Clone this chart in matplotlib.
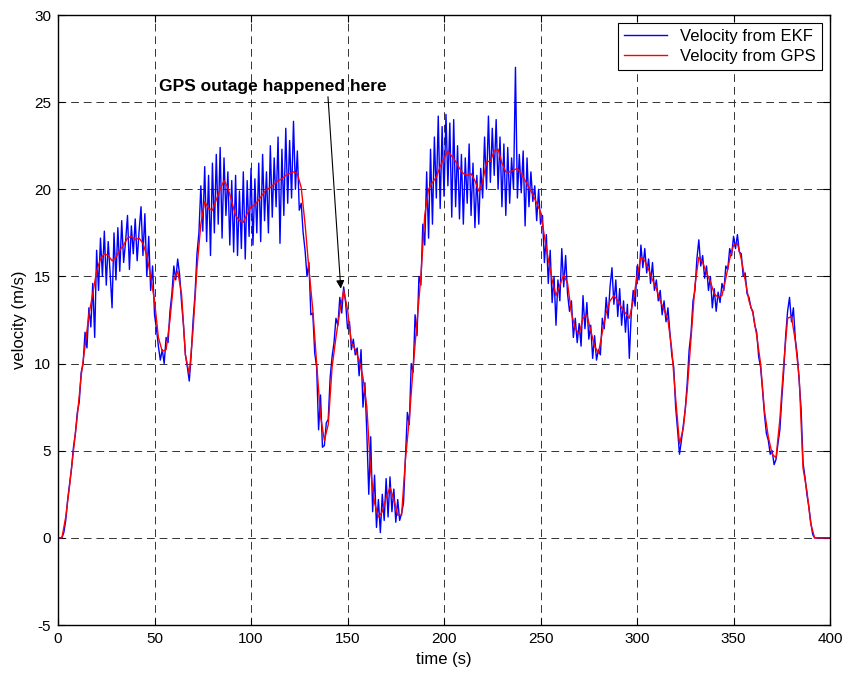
import numpy as np
import matplotlib
matplotlib.use("Agg")
from matplotlib import pyplot as plt

# GPS velocity, every 2 s from 0 to 400
gps_t = np.arange(0, 402, 2)
gps_v = [
    0, 0, 1.2, 3.0, 5.0, 7.0, 9.3, 11.0, 12.8, 14.0,
    15.3, 16.0, 16.3, 16.2, 15.9, 16.1, 16.5, 16.8, 17.2, 17.3,
    17.1, 17.2, 16.9, 16.2, 15.0, 13.6, 11.5, 10.7, 10.8, 12.5,
    14.8, 15.3, 14.0, 10.5, 9.4, 12.0, 15.5, 18.0, 19.3, 18.9,
    18.8, 19.4, 20.0, 20.5, 20.1, 19.3, 18.5, 18.2, 18.1, 18.6,
    19.0, 19.1, 19.4, 19.7, 20.0, 20.1, 20.3, 20.5, 20.6, 20.8,
    20.9, 21.0, 20.9, 20.1, 18.0, 15.4, 13.1, 10.0, 7.0, 5.6,
    6.5, 9.8, 11.5, 13.0, 14.2, 13.1, 11.2, 10.8, 10.2, 9.2,
    7.5, 3.8, 2.0, 1.2, 1.5, 2.3, 2.9, 2.2, 1.3, 1.3,
    4.5, 6.8, 9.8, 12.4, 15.0, 18.5, 20.0, 20.4, 20.7, 21.3,
    21.8, 22.2, 21.9, 21.6, 21.2, 20.9, 20.8, 20.9, 20.5, 19.9,
    20.4, 21.6, 21.6, 22.2, 22.3, 21.5, 21.0, 21.0, 21.1, 21.2,
    20.9, 20.5, 20.1, 19.7, 19.2, 18.7, 17.3, 16.0, 14.8, 13.9,
    14.5, 15.1, 14.6, 12.9, 12.0, 11.7, 12.6, 12.8, 11.9, 11.0,
    10.6, 11.8, 12.9, 13.6, 13.9, 13.6, 13.2, 12.9, 12.6, 13.6,
    15.0, 16.1, 15.9, 15.4, 14.8, 14.3, 13.6, 13.1, 12.5, 10.8,
    8.0, 5.4, 6.3, 8.5, 11.5, 14.5, 16.1, 15.8, 15.2, 14.7,
    14.0, 13.8, 13.9, 14.9, 16.0, 16.8, 16.9, 16.0, 14.8, 13.6,
    12.9, 11.6, 10.0, 7.3, 5.8, 4.8, 4.6, 6.8, 10.0, 12.6,
    12.7, 11.3, 9.2, 4.0, 2.7, 0.8, 0, 0, 0, 0,
    0,
]

# EKF velocity, every 1 s from 0 to 400
ekf_t = np.arange(0, 401, 1)
ekf_v = [
    0, 0, 0, 0.3, 1.0, 2.2, 3.1, 4.0, 5.2, 6.0,
    7.2, 7.8, 9.5, 10.0, 11.8, 10.9, 13.2, 12.1, 14.6, 11.5,
    16.5, 14.2, 17.2, 15.0, 17.6, 14.5, 17.0, 15.2, 13.2, 17.5,
    14.8, 17.8, 15.3, 18.2, 15.8, 17.0, 18.5, 15.4, 17.9, 16.3,
    18.3, 15.9, 17.6, 19.0, 16.2, 18.6, 15.0, 17.3, 14.2, 15.6,
    12.8, 12.0, 11.0, 10.2, 10.8, 10.0, 11.5, 11.2, 13.0, 14.0,
    15.6, 14.8, 16.0, 15.1, 13.5, 12.2, 10.5, 9.8, 9.0, 10.5,
    12.5, 14.0, 16.3, 17.5, 20.2, 17.6, 21.3, 17.0, 20.8, 16.2,
    21.5, 17.5, 22.0, 18.0, 22.4, 17.2, 21.8, 18.5, 21.0, 16.8,
    20.5, 16.4, 20.8, 16.2, 19.9, 16.6, 21.0, 16.0, 20.5, 17.3,
    21.2, 16.8, 20.6, 17.5, 21.5, 17.0, 22.0, 18.2, 21.0, 17.5,
    22.5, 18.4, 21.8, 19.0, 23.0, 16.9, 22.3, 18.5, 23.5, 19.2,
    22.8, 19.5, 23.9, 20.0, 22.2, 18.8, 19.2, 17.5, 16.5, 15.0,
    15.8, 12.8, 12.9, 10.6, 9.8, 6.2, 8.2, 5.2, 5.3, 6.6,
    6.8, 9.2, 10.4, 11.2, 12.6, 12.2, 13.8, 12.9, 14.4, 13.5,
    12.0, 12.4, 10.8, 11.4, 10.5, 10.9, 9.3, 10.8, 7.5, 8.9,
    6.0, 2.5, 5.8, 1.5, 3.6, 0.6, 2.2, 0.3, 2.5, 1.0,
    3.4, 1.2, 3.5, 1.5, 2.8, 0.9, 2.2, 1.0, 1.4, 2.0,
    4.6, 7.2, 6.5, 10.0, 9.5, 12.8, 11.6, 15.0, 14.5, 18.0,
    16.8, 21.0, 17.2, 22.3, 18.0, 23.0, 19.5, 24.2, 18.9, 23.6,
    19.6, 24.3, 20.2, 23.8, 18.4, 24.0, 19.0, 22.5, 18.3, 22.0,
    18.0, 21.8, 19.2, 22.6, 18.5, 21.5, 17.8, 20.8, 18.0, 21.2,
    19.5, 23.0, 20.0, 24.2, 20.4, 23.5, 20.8, 24.0, 20.0, 23.0,
    19.0, 22.6, 18.5, 22.4, 19.2, 21.8, 20.0, 27.0, 19.5, 22.0,
    19.8, 22.2, 17.9, 21.8, 19.0, 21.0, 19.3, 20.2, 18.2, 20.0,
    18.0, 18.5, 15.8, 17.4, 14.6, 16.5, 13.5, 15.0, 12.2, 14.8,
    13.6, 16.6, 14.4, 16.2, 14.0, 13.0, 13.6, 11.5, 12.6, 11.2,
    12.3, 11.0, 13.9, 12.0, 13.5, 11.4, 12.2, 10.3, 11.6, 10.2,
    10.8, 10.5, 12.6, 12.0, 13.8, 12.6, 14.4, 15.5, 13.4, 14.8,
    12.7, 14.3, 12.2, 13.6, 11.8, 13.4, 10.3, 12.9, 14.2, 13.3,
    15.6, 14.8, 16.8, 15.5, 16.6, 15.2, 16.0, 14.6, 15.8, 14.2,
    14.8, 13.6, 14.2, 12.8, 13.6, 12.4, 13.2, 11.8, 10.5, 9.8,
    7.5, 6.2, 4.8, 5.6, 6.5, 7.4, 8.9, 10.8, 11.8, 13.6,
    14.2, 16.0, 17.1, 15.6, 16.2, 14.9, 15.6, 14.2, 15.0, 13.2,
    14.3, 13.0, 14.1, 13.5, 14.6, 14.2, 15.6, 15.4, 16.6, 16.2,
    17.3, 16.6, 17.4, 16.4, 16.3, 15.0, 15.2, 14.0, 13.8, 13.2,
    13.0, 12.2, 11.8, 10.4, 9.8, 8.5, 7.1, 6.0, 5.6, 4.8,
    5.0, 4.2, 4.5, 5.4, 6.2, 8.0, 9.6, 11.6, 13.0, 13.8,
    12.4, 13.2, 11.4, 10.5, 9.0, 7.4, 4.3, 3.5, 2.5, 1.8,
    0.9, 0.2, 0, 0, 0, 0, 0, 0, 0, 0,
    0,
]

plt.rcParams['font.family'] = ['Liberation Sans', 'DejaVu Sans']
plt.rcParams['axes.unicode_minus'] = False

fig = plt.figure(figsize=(8.47, 6.73), dpi=100)
ax = fig.add_axes([0.0685, 0.0713, 0.9115, 0.9064])

ax.plot(ekf_t, ekf_v, color='blue', lw=1.0, label='Velocity from EKF')
ax.plot(gps_t, gps_v, color='red', lw=1.0, label='Velocity from GPS')

ax.set_xlim(0, 400)
ax.set_ylim(-5, 30)
ax.set_xticks(np.arange(0, 401, 50))
ax.set_yticks(np.arange(-5, 31, 5))
ax.tick_params(direction='in', top=True, right=True, labelsize=11, length=5, pad=5)
ax.grid(True, color='#333333', linestyle=(0, (8, 5)), linewidth=0.7)
for s in ax.spines.values():
    s.set_linewidth(1.0)

ax.set_xlabel('time (s)', fontsize=12, labelpad=4)
ax.set_ylabel('velocity (m/s)', fontsize=12, labelpad=5)

ax.annotate('GPS outage happened here', xy=(146.5, 14.3), xytext=(52.5, 25.9),
            fontsize=12.5, fontweight='bold', va='center', ha='left',
            arrowprops=dict(arrowstyle='-|>', color='black', lw=0.8,
                            shrinkA=0, shrinkB=0, mutation_scale=12,
                            relpos=(0.74, 0.0)))

leg = ax.legend(loc='upper right', fontsize=12, fancybox=False, framealpha=1,
                edgecolor='black', borderaxespad=0.5, handlelength=2.6,
                labelspacing=0.3, borderpad=0.35)
leg.get_frame().set_linewidth(0.8)

fig.savefig('out.png', dpi=100)
